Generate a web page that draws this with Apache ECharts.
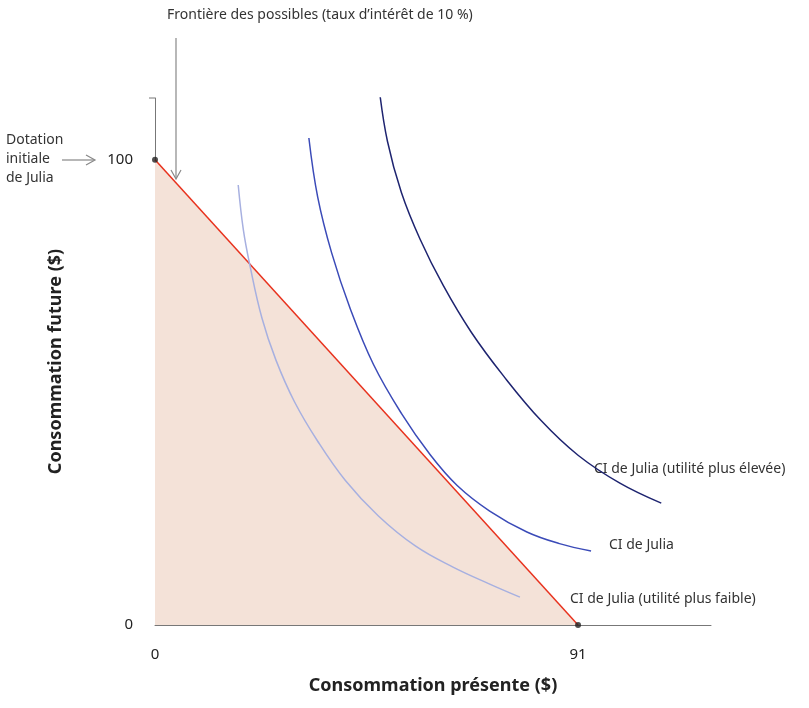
<!DOCTYPE html>
<html><head><meta charset="utf-8">
<script src="https://cdn.jsdelivr.net/npm/echarts@6/dist/echarts.min.js"></script>
<style>html,body{margin:0;background:#fff}#c{width:809px;height:708px}</style>
</head><body><div id="c"></div>
<script>
const budget = [[0, 100], [91, 0]];
const ciLow = [[17.9, 94.6], [19, 85], [20.4, 77.4], [23, 66], [26, 57], [30, 48], [35, 39.5], [41, 31], [48, 23.5], [56, 17], [64, 12.5], [72, 8.8], [78.5, 6]];
const ciMid = [[33.1, 104.7], [35, 92], [38, 80], [42, 68], [47, 56], [53, 45.5], [59.2, 36.6], [65, 30], [72, 24.5], [80, 20], [87, 17.5], [93.8, 15.9]];
const ciHigh = [[48.2, 115.5], [50, 104], [53, 93], [57, 83], [62, 73], [68, 63], [75, 53.5], [83, 44], [91, 36.5], [100, 30.5], [108.9, 26.2]];
const xTicks = [0, 91];
const yTicks = [0, 100];

const font = 'Noto Sans';
const chart = echarts.init(document.getElementById('c'));
const arrowStyle = { stroke: '#888', lineWidth: 1.2 };

chart.setOption({
  animation: false,
  textStyle: { fontFamily: font },
  grid: { left: 155, right: 98, top: 98, bottom: 83 },
  xAxis: {
    type: 'value', min: 0, max: 119.6,
    name: 'Consommation présente ($)', nameLocation: 'middle', nameGap: 52,
    nameTextStyle: { fontSize: 18, fontWeight: 'bold', color: '#222' },
    axisLine: { lineStyle: { color: '#777' } },
    axisTick: { show: false }, splitLine: { show: false },
    axisLabel: { customValues: xTicks, fontSize: 15, color: '#222', margin: 22 }
  },
  yAxis: {
    type: 'value', min: 0, max: 113.3,
    name: 'Consommation future ($)', nameLocation: 'middle', nameGap: 90,
    nameTextStyle: { fontSize: 18, fontWeight: 'bold', color: '#222' },
    axisLine: { show: true, lineStyle: { color: '#777' } },
    axisTick: { show: false }, splitLine: { show: false },
    axisLabel: { customValues: yTicks, fontSize: 15, color: '#222', margin: 22 }
  },
  series: [
    { type: 'line', data: budget, symbol: 'none', lineStyle: { color: '#e8321e', width: 1.5 },
      areaStyle: { color: '#f4e2d8', opacity: 1 }, z: 2 },
    { type: 'scatter', data: budget, symbolSize: 6, itemStyle: { color: '#222' }, z: 5 },
    { type: 'line', data: ciLow, smooth: 0.4, symbol: 'none', lineStyle: { color: '#a7b0e0', width: 1.5 }, z: 3 },
    { type: 'line', data: ciMid, smooth: 0.4, symbol: 'none', lineStyle: { color: '#3b4bb8', width: 1.5 }, z: 3 },
    { type: 'line', data: ciHigh, smooth: 0.4, symbol: 'none', lineStyle: { color: '#1e2470', width: 1.5 }, z: 3 }
  ],
  graphic: [
    { type: 'line', shape: { x1: 149, y1: 98, x2: 155, y2: 98 }, style: { stroke: '#777', lineWidth: 1 } },
    { type: 'text', left: 167, top: 8, style: { text: 'Frontière des possibles (taux d\u2019intérêt de 10 %)', font: '14px ' + font, fill: '#333' } },
    { type: 'line', shape: { x1: 176, y1: 38, x2: 176, y2: 178 }, style: arrowStyle },
    { type: 'polyline', shape: { points: [[171, 170], [176, 179], [181, 170]] }, style: arrowStyle },
    { type: 'text', left: 6, top: 131, style: { text: 'Dotation\ninitiale\nde Julia', font: '14px ' + font, fill: '#333', lineHeight: 19 } },
    { type: 'line', shape: { x1: 62, y1: 160, x2: 94, y2: 160 }, style: arrowStyle },
    { type: 'polyline', shape: { points: [[86, 155], [95, 160], [86, 165]] }, style: arrowStyle },
    { type: 'text', left: 594, top: 462, style: { text: 'CI de Julia (utilité plus élevée)', font: '14px ' + font, fill: '#333' } },
    { type: 'text', left: 609, top: 538, style: { text: 'CI de Julia', font: '14px ' + font, fill: '#333' } },
    { type: 'text', left: 570, top: 592, style: { text: 'CI de Julia (utilité plus faible)', font: '14px ' + font, fill: '#333' } }
  ]
});
</script></body></html>
